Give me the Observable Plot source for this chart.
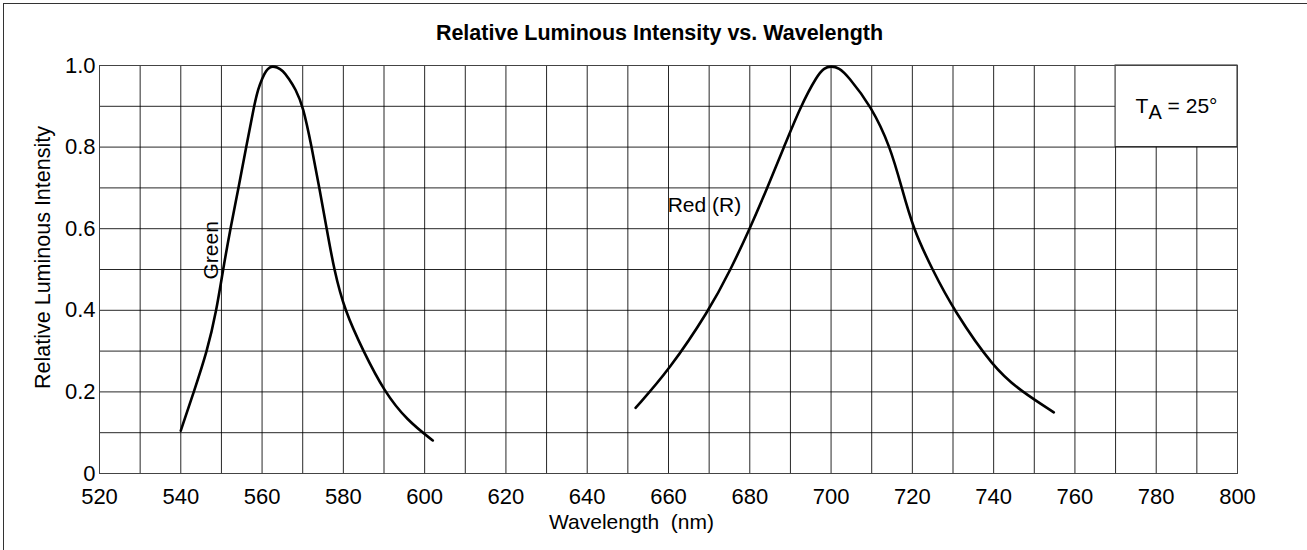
<!DOCTYPE html>
<html>
<head>
<meta charset="utf-8">
<script src="https://cdn.jsdelivr.net/npm/d3@7"></script>
<script src="https://cdn.jsdelivr.net/npm/@observablehq/plot@0.6"></script>
<style>
  html, body { margin: 0; padding: 0; background: #fff; }
  #wrap { position: relative; width: 1307px; height: 550px; overflow: hidden; }
  #border { position: absolute; left: 3px; top: 3px; width: 1310px; height: 560px;
            border-top: 1px solid #333; border-left: 1px solid #333; pointer-events: none; }
  #chart { position: absolute; left: 0; top: 0; }
</style>
</head>
<body>
<div id="wrap"><div id="chart"></div><div id="border"></div></div>
<script>
// ---- data ----
const greenWl  = [540, 543.2, 546.5, 548.8, 550.4, 552.2, 554.2, 556.1, 558.0, 559.05, 560.0, 561.0, 561.9, 562.6, 563.6, 565.1, 566.6, 568.2, 570.1, 572.2, 574.1, 575.9, 577.7, 580.3, 584.9, 590.1, 595.7, 602];
const greenVal = [0.105, 0.2, 0.3, 0.4, 0.5, 0.6, 0.7, 0.8, 0.9, 0.943, 0.968, 0.988, 0.996, 0.998, 0.996, 0.988, 0.968, 0.943, 0.9, 0.8, 0.7, 0.6, 0.5, 0.4, 0.3, 0.2, 0.13, 0.081];

const redWl  = [651.9, 660.1, 670, 675.3, 680, 684.3, 688.4, 692.5, 696.6, 698.3, 700, 702, 704, 709.9, 714.6, 717.4, 720.2, 724.9, 730.2, 740.1, 747.0, 754.8];
const redVal = [0.161, 0.253, 0.4, 0.5, 0.6, 0.7, 0.8, 0.9, 0.976, 0.994, 0.999, 0.994, 0.976, 0.9, 0.8, 0.7, 0.6, 0.5, 0.4, 0.257, 0.2, 0.15];

const xTicks = [520, 540, 560, 580, 600, 620, 640, 660, 680, 700, 720, 740, 760, 780, 800];
const yTicks = [0, 0.2, 0.4, 0.6, 0.8, 1.0];
const xGrid = d3.range(530, 800, 10);
const yGrid = [0.1, 0.2, 0.3, 0.4, 0.5, 0.6, 0.7, 0.8, 0.9];

const titleText = "Relative Luminous Intensity vs. Wavelength";
const xLabel = "Wavelength  (nm)";
const yLabel = "Relative Luminous Intensity";
const taLabel = "TA = 25°";

const seriesLabels = [
  {text: "Green", x: 547.6, y: 0.547, rotate: -90},
  {text: "Red (R)", x: 659.8, y: 0.657, rotate: 0}
];
const legendBox = [{x1: 770, x2: 800, y1: 0.8, y2: 1.0, x: 785, y: 0.9}];

const green = greenWl.map((wl, i) => ({wl, val: greenVal[i]}));
const red = redWl.map((wl, i) => ({wl, val: redVal[i]}));

const font = "'Liberation Sans', Arial, Helvetica, sans-serif";

const svg = Plot.plot({
  width: 1307,
  height: 550,
  marginLeft: 99,
  marginRight: 70,
  marginTop: 65,
  marginBottom: 77,
  style: {fontFamily: font, fontSize: "21px", color: "#000", background: "transparent"},
  x: {domain: [520, 800]},
  y: {domain: [0, 1]},
  marks: [
    Plot.ruleX(xGrid, {stroke: "#000", strokeWidth: 1, strokeOpacity: 0.85}),
    Plot.ruleY(yGrid, {stroke: "#000", strokeWidth: 1, strokeOpacity: 0.85}),
    Plot.rect(legendBox, {x1: "x1", x2: "x2", y1: "y1", y2: "y2", fill: "white", stroke: "#222", strokeWidth: 1}),
    Plot.frame({stroke: "#444", strokeWidth: 1}),
    Plot.axisX({ticks: xTicks, tickSize: 0, tickPadding: 15, label: null, fontSize: 22, tickFormat: d => String(d)}),
    Plot.axisY({ticks: yTicks, tickSize: 0, tickPadding: 4, label: null, fontSize: 22, tickFormat: d => d === 0 ? "0" : d.toFixed(1)}),
    Plot.line(green, {x: "wl", y: "val", curve: "basis", stroke: "#000", strokeWidth: 2.6}),
    Plot.line(red, {x: "wl", y: "val", curve: "basis", stroke: "#000", strokeWidth: 2.6}),
    Plot.text(seriesLabels.filter(d => d.rotate !== 0), {x: "x", y: "y", text: "text", rotate: -90, textAnchor: "middle", fill: "#000"}),
    Plot.text(seriesLabels.filter(d => d.rotate === 0), {x: "x", y: "y", text: "text", textAnchor: "start", fill: "#000"}),
    Plot.text(legendBox, {x: "x", y: "y", text: () => taLabel, textAnchor: "middle", fill: "#000"}),
    Plot.text([titleText], {frameAnchor: "top", dx: -9, dy: -41, fontWeight: "bold", fontSize: 21.5, fill: "#000"}),
    Plot.text([xLabel], {frameAnchor: "bottom", dx: -37, dy: 55, fill: "#000"}),
    Plot.text([yLabel], {frameAnchor: "left", dx: -56, dy: -12, rotate: -90, textAnchor: "middle", fontSize: 21.5, fill: "#000"})
  ]
});

d3.select(svg).selectAll("text").filter(function() { return this.textContent === taLabel; })
  .each(function() {
    const t = d3.select(this);
    t.text(null);
    t.append("tspan").text("T");
    t.append("tspan").attr("dy", 6).attr("font-size", 20).text("A");
    t.append("tspan").attr("dy", -6).text(" = 25°");
  });

document.getElementById("chart").appendChild(svg);
</script>
</body>
</html>
